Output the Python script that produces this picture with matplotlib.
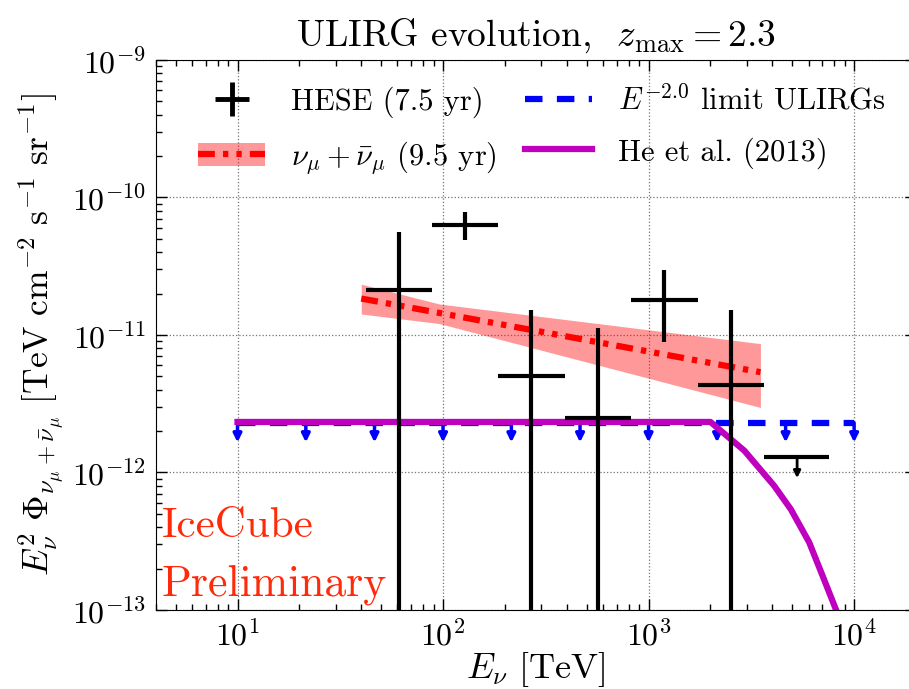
import numpy as np
import matplotlib
matplotlib.use("Agg")
import matplotlib.pyplot as plt
from matplotlib.lines import Line2D
from matplotlib.patches import Patch

plt.rcParams["font.family"] = "serif"
plt.rcParams["font.serif"] = ["cmr10"]
plt.rcParams["mathtext.fontset"] = "cm"
plt.rcParams["axes.formatter.use_mathtext"] = True

# ── data ──
# HESE (7.5 yr) points: bin centre, bin edges, flux and its range
hese_E = [60.8, 128, 267, 565, 1185, 2505]
hese_Elo = [42, 88, 185.5, 390, 820, 1730]
hese_Ehi = [88, 185.5, 390, 820, 1730, 3650]
hese_flux = [2.13e-11, 6.3e-11, 5.0e-12, 2.5e-12, 1.8e-11, 4.36e-12]
hese_hi = [5.6e-11, 7.9e-11, 1.52e-11, 1.13e-11, 2.97e-11, 1.52e-11]
hese_lo = [1e-14, 4.9e-11, 1e-14, 1e-14, 8.9e-12, 1e-14]
# HESE upper limit
ul_E = [5280]
ul_Elo = [3650]
ul_Ehi = [7540]
ul_flux = [1.3e-12]

# nu_mu + nu_mu-bar (9.5 yr) best fit and band
numu_E = [40, 3500]
numu_flux = [1.84e-11, 5.36e-12]
band_E = [40, 96, 3500]
band_hi = [2.34e-11, 1.68e-11, 8.65e-12]
band_lo = [1.42e-11, 1.21e-11, 2.97e-12]

# E^-2.0 limit for ULIRGs
lim_E = [10, 10000]
lim_flux = [2.3e-12, 2.3e-12]
arrow_E = [10, 21.5, 46.4, 100, 215, 464, 1000, 2154, 4642, 10000]

# He et al. (2013)
he_E = [10, 2000, 2924, 4083, 4920, 6040, 7015, 8150, 8913]
he_flux = [2.33e-12, 2.33e-12, 1.44e-12, 8.0e-13, 5.4e-13, 3.11e-13, 1.78e-13, 1.01e-13, 7.2e-14]

# ── plot ──
fig = plt.figure(figsize=(9.09, 6.89), dpi=100)
ax = fig.add_axes([0.1713, 0.1147, 0.8364, 0.7983])

hE = np.array(hese_E); hf = np.array(hese_flux)
ax.errorbar(hE, hf,
            xerr=[hE - np.array(hese_Elo), np.array(hese_Ehi) - hE],
            yerr=[hf - np.array(hese_lo), np.array(hese_hi) - hf],
            fmt="none", ecolor="k", elinewidth=3, capsize=0, zorder=5)
uE = np.array(ul_E); uf = np.array(ul_flux)
ax.errorbar(uE, uf, xerr=[uE - np.array(ul_Elo), np.array(ul_Ehi) - uE],
            fmt="none", ecolor="k", elinewidth=3, capsize=0, zorder=5)
for e, f in zip(ul_E, ul_flux):
    ax.annotate("", xy=(e, f * 0.7), xytext=(e, f),
                arrowprops=dict(arrowstyle="-|>", color="k", lw=2, mutation_scale=10,
                                shrinkA=0, shrinkB=0), zorder=5)

ax.fill_between(band_E, band_lo, band_hi, color="red", alpha=0.4, lw=0, zorder=2)
dashdotdot = (2.7, 1.3, 0.85, 1.3, 0.85, 1.3)
ax.plot(numu_E, numu_flux, color="red", lw=4.5, dashes=dashdotdot, zorder=3)

ax.plot(lim_E, lim_flux, color="blue", lw=4.5, dashes=(2.8, 2.3), zorder=3)
for e in arrow_E:
    ax.annotate("", xy=(e, lim_flux[0] * 0.72), xytext=(e, lim_flux[0]),
                arrowprops=dict(arrowstyle="-|>", color="blue", lw=2.5, mutation_scale=12,
                                shrinkA=0, shrinkB=0), zorder=3)

ax.plot(he_E, he_flux, color="#bf00bf", lw=4.5, zorder=4)

ax.set_xscale("log"); ax.set_yscale("log")
ax.set_xlim(4, 2e4)
ax.set_ylim(1e-13, 1e-9)
ax.grid(True, which="major", ls=":", color="0.45", lw=0.9)
ax.tick_params(which="both", direction="in", top=True, right=True, labelsize=23)
ax.tick_params(which="major", length=8, width=1, pad=7)
ax.tick_params(which="minor", length=4, width=1)

ax.set_xlabel(r"$E_\nu\ [\mathrm{TeV}]$", fontsize=26, labelpad=-1)
ax.set_ylabel(r"$E_\nu^2\ \Phi_{\nu_\mu+\bar{\nu}_\mu}\ [\mathrm{TeV\ cm^{-2}\ s^{-1}\ sr^{-1}}]$",
              fontsize=25.5, labelpad=4)
ax.set_title(r"ULIRG evolution,  $z_{\rm max} = 2.3$", fontsize=27, pad=10)

ax.text(0.008, 0.133, "IceCube", transform=ax.transAxes, fontsize=31, color="#ff2a0a")
ax.text(0.008, 0.027, "Preliminary", transform=ax.transAxes, fontsize=31.5, color="#ff2a0a")

h_hese = Line2D([], [], color="k", marker="+", ms=24, mew=3.5, ls="none")
h_numu = (Patch(fc="red", alpha=0.4, ec="none"),
          Line2D([], [], color="red", lw=4.5, dashes=dashdotdot))
h_lim = Line2D([], [], color="blue", lw=4.5, dashes=(2.8, 2.3))
h_he = Line2D([], [], color="#bf00bf", lw=4.5)
ax.legend([h_hese, h_numu, h_lim, h_he],
          ["HESE (7.5 yr)", r"$\nu_\mu+\bar{\nu}_\mu$ (9.5 yr)",
           r"$E^{-2.0}$ limit ULIRGs", "He et al. (2013)"],
          ncol=2, loc="upper left", bbox_to_anchor=(0.0556, 0.955), frameon=False,
          fontsize=22, handlelength=2.2, handleheight=0.8, handletextpad=0.85,
          columnspacing=0.9, labelspacing=0.7, borderpad=0, borderaxespad=0)

fig.savefig("out.png", dpi=100)
